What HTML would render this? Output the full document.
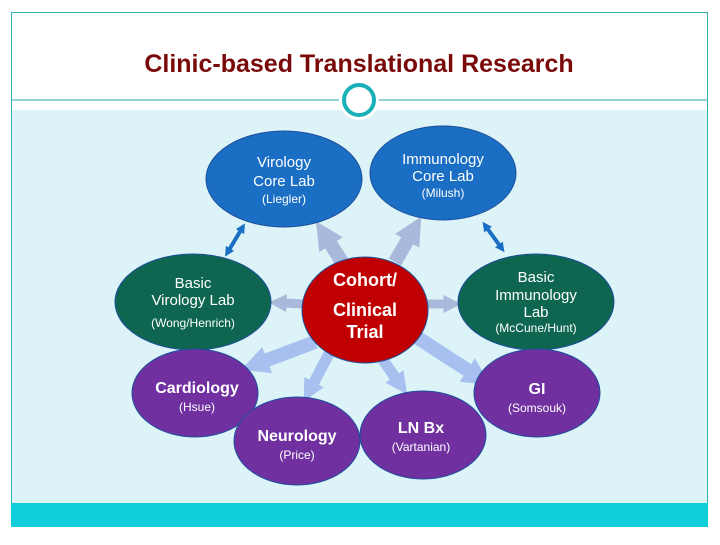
<!DOCTYPE html>
<html><head><meta charset="utf-8"><style>
body{margin:0;width:720px;height:540px;background:#fff;overflow:hidden}
svg text{font-family:"Liberation Sans",Arial,sans-serif}
</style></head><body>
<svg width="720" height="540" viewBox="0 0 720 540" xmlns="http://www.w3.org/2000/svg">
<defs>
<marker id="ah" viewBox="0 0 10 10" refX="2" refY="5" markerWidth="2" markerHeight="2.2" orient="auto" markerUnits="strokeWidth"><path d="M0,0 L10,5 L0,10z" fill="context-stroke"/></marker>
<marker id="dh" viewBox="0 0 10 10" refX="2" refY="5" markerWidth="2.4" markerHeight="2.6" orient="auto-start-reverse" markerUnits="strokeWidth"><path d="M0,0 L10,5 L0,10z" fill="#1a6fc4"/></marker>
</defs>
<rect x="11.5" y="12.5" width="696" height="514" fill="#fff" stroke="#2fb0b0"/>
<rect x="12" y="110" width="695" height="393" fill="#dcf4f8"/>
<rect x="11" y="503" width="697" height="24" fill="#10cfdb"/>
<line x1="12" y1="100" x2="707" y2="100" stroke="#2aa8a8" stroke-width="1"/>
<circle cx="359" cy="100" r="20" fill="#fff"/>
<circle cx="359" cy="100" r="15" fill="#fff" stroke="#1ab0b8" stroke-width="4"/>
<text x="359" y="72" text-anchor="middle" font-size="25" font-weight="bold" fill="#7a0a0a">Clinic-based Translational Research</text>

<g stroke-linecap="butt" fill="none">
<line x1="342" y1="262" x2="328" y2="240" stroke="#a9b9dc" stroke-width="14" marker-end="url(#ah)"/>
<line x1="395" y1="262" x2="410" y2="236" stroke="#a9b9dc" stroke-width="14" marker-end="url(#ah)"/>
<line x1="304" y1="304" x2="283" y2="303" stroke="#a9b9dc" stroke-width="9" marker-end="url(#ah)"/>
<line x1="426" y1="304" x2="447" y2="304" stroke="#a9b9dc" stroke-width="9" marker-end="url(#ah)"/>
<line x1="315" y1="342" x2="262" y2="362" stroke="#a8c0f0" stroke-width="14" marker-end="url(#ah)"/>
<line x1="330" y1="352" x2="312" y2="386" stroke="#a8c0f0" stroke-width="11" marker-end="url(#ah)"/>
<line x1="383" y1="360" x2="397" y2="380" stroke="#a8c0f0" stroke-width="11" marker-end="url(#ah)"/>
<line x1="418" y1="338" x2="472" y2="373" stroke="#a8c0f0" stroke-width="14" marker-end="url(#ah)"/>
<line x1="241" y1="230" x2="229" y2="250" stroke="#1a6fc4" stroke-width="4" marker-start="url(#dh)" marker-end="url(#dh)"/>
<line x1="487" y1="228" x2="500" y2="246" stroke="#1a6fc4" stroke-width="4" marker-start="url(#dh)" marker-end="url(#dh)"/>
</g>

<g stroke="#1c4f9a" stroke-width="1">
<ellipse cx="284" cy="179" rx="78" ry="48" fill="#1a6fc4"/>
<ellipse cx="443" cy="173" rx="73" ry="47" fill="#1a6fc4"/>
<ellipse cx="193" cy="302" rx="78" ry="48" fill="#0e6650"/>
<ellipse cx="536" cy="302" rx="78" ry="48" fill="#0e6650"/>
<ellipse cx="365" cy="310" rx="63" ry="53" fill="#c00000"/>
<ellipse cx="195" cy="393" rx="63" ry="44" fill="#7030a0"/>
<ellipse cx="537" cy="393" rx="63" ry="44" fill="#7030a0"/>
<ellipse cx="297" cy="441" rx="63" ry="44" fill="#7030a0"/>
<ellipse cx="423" cy="435" rx="63" ry="44" fill="#7030a0"/>
</g>

<g fill="#fff" text-anchor="middle">
<text x="284" y="167" font-size="15">Virology</text>
<text x="284" y="186" font-size="15">Core Lab</text>
<text x="284" y="203" font-size="12">(Liegler)</text>
<text x="443" y="164" font-size="15">Immunology</text>
<text x="443" y="181" font-size="15">Core Lab</text>
<text x="443" y="197" font-size="12">(Milush)</text>
<text x="193" y="288" font-size="15">Basic</text>
<text x="193" y="305" font-size="15">Virology Lab</text>
<text x="193" y="327" font-size="12">(Wong/Henrich)</text>
<text x="536" y="282" font-size="15">Basic</text>
<text x="536" y="300" font-size="15">Immunology</text>
<text x="536" y="317" font-size="15">Lab</text>
<text x="536" y="332" font-size="12">(McCune/Hunt)</text>
<text x="365" y="286" font-size="18" font-weight="bold">Cohort/</text>
<text x="365" y="316" font-size="18" font-weight="bold">Clinical</text>
<text x="365" y="338" font-size="18" font-weight="bold">Trial</text>
<text x="197" y="393" font-size="16" font-weight="bold">Cardiology</text>
<text x="197" y="411" font-size="12">(Hsue)</text>
<text x="537" y="394" font-size="16" font-weight="bold">GI</text>
<text x="537" y="412" font-size="12">(Somsouk)</text>
<text x="297" y="441" font-size="16" font-weight="bold">Neurology</text>
<text x="297" y="459" font-size="12">(Price)</text>
<text x="421" y="433" font-size="16" font-weight="bold">LN Bx</text>
<text x="421" y="451" font-size="12">(Vartanian)</text>
</g>
</svg>
</body></html>
